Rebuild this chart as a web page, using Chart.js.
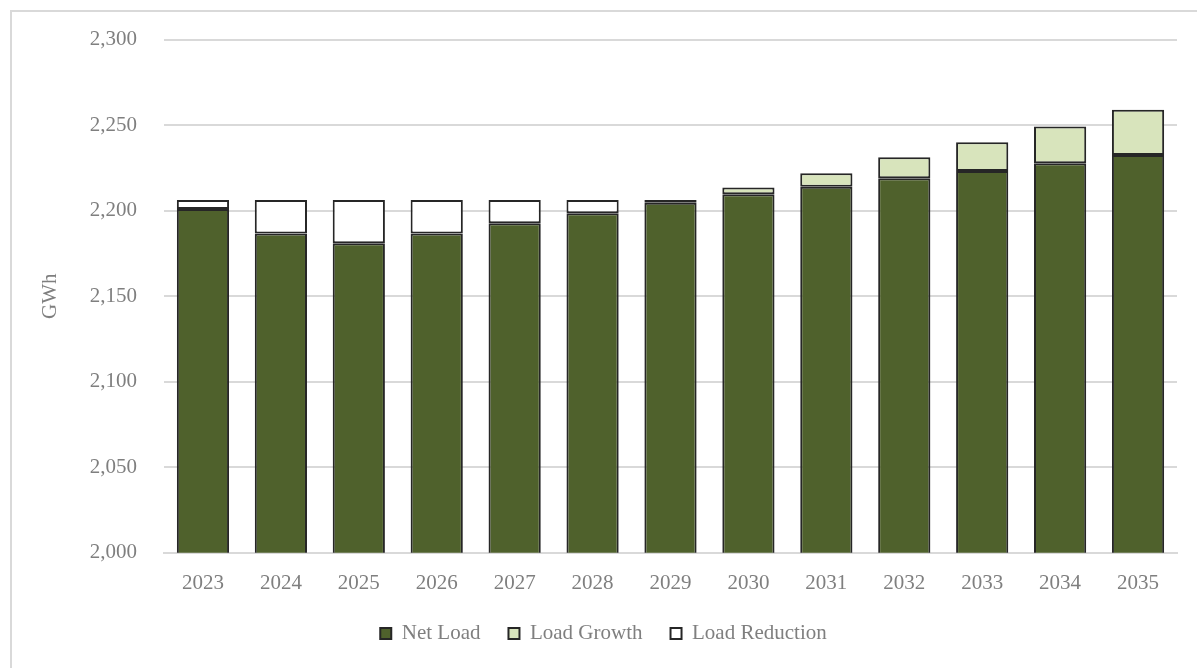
<!DOCTYPE html>
<html lang="en">
<head>
    <title>Net Load</title>
    <script src="https://cdn.jsdelivr.net/npm/chart.js"></script>
    <style>
        body { margin: 0; background: #fff; overflow: hidden; }
        #frame { position: absolute; left: 10px; top: 10px; width: 1200px; height: 700px; border: 2px solid #d9d9d9; box-sizing: border-box; }
        #wrap { position: absolute; left: 0; top: 0; width: 1197px; height: 668px; }
    </style>
</head>
<body>
    <div id="frame"></div>
    <div id="wrap"><canvas id="loadChart"></canvas></div>

    <script>
        const years = ["2023", "2024", "2025", "2026", "2027", "2028", "2029", "2030", "2031", "2032", "2033", "2034", "2035"];
        const netLoad = [2201, 2186.7, 2181, 2186.7, 2192.6, 2198.5, 2204.7, 2209.6, 2214, 2218.9, 2223.2, 2227.7, 2232.6];
        const loadGrowth = [0, 0, 0, 0, 0, 0, 0, 3.9, 7.9, 12.3, 16.8, 21.5, 26.4];
        const loadReduction = [5.2, 19.5, 25.2, 19.5, 13.6, 7.7, 1.5, 0, 0, 0, 0, 0, 0];

        const gray = "#7f7f7f";
        const font = { family: "'Liberation Serif', 'DejaVu Serif', serif", size: 21 };
        Chart.defaults.font = font;
        Chart.defaults.color = gray;

        const bar = (label, data, color) => ({
            label: label,
            data: data,
            backgroundColor: color,
            borderColor: "#262626",
            borderWidth: 2,
            borderSkipped: false,
            barPercentage: 0.67,
            categoryPercentage: 1.0
        });

        new Chart(document.getElementById("loadChart"), {
            type: "bar",
            data: {
                labels: years,
                datasets: [
                    bar("Net Load", netLoad, "#4f612c"),
                    bar("Load Growth", loadGrowth, "#d8e4bc"),
                    bar("Load Reduction", loadReduction, "#ffffff")
                ]
            },
            options: {
                responsive: true,
                maintainAspectRatio: false,
                animation: false,
                layout: { padding: { left: 30, right: 20, top: 30, bottom: 14 } },
                plugins: {
                    tooltip: { enabled: false },
                    legend: {
                        position: "bottom",
                        labels: { boxWidth: 11, boxHeight: 11, padding: 28, color: gray, font: font }
                    }
                },
                scales: {
                    x: {
                        stacked: true,
                        afterFit: (axis) => { axis.height -= 19; },
                        grid: { display: false, drawTicks: false },
                        border: { color: "#d9d9d9", width: 2 },
                        ticks: { padding: 18, color: gray, font: font }
                    },
                    y: {
                        stacked: true,
                        min: 2000,
                        max: 2300,
                        afterFit: (axis) => { axis.width = 134; },
                        grid: { color: "#d9d9d9", lineWidth: 2, drawTicks: false },
                        border: { display: false },
                        ticks: {
                            stepSize: 50,
                            padding: 27,
                            color: gray,
                            font: font,
                            callback: (v) => v.toLocaleString("en-US")
                        },
                        title: { display: true, text: "GWh", color: gray, font: font, padding: { top: 8, bottom: 0 } }
                    }
                }
            }
        });
    </script>
</body>
</html>
